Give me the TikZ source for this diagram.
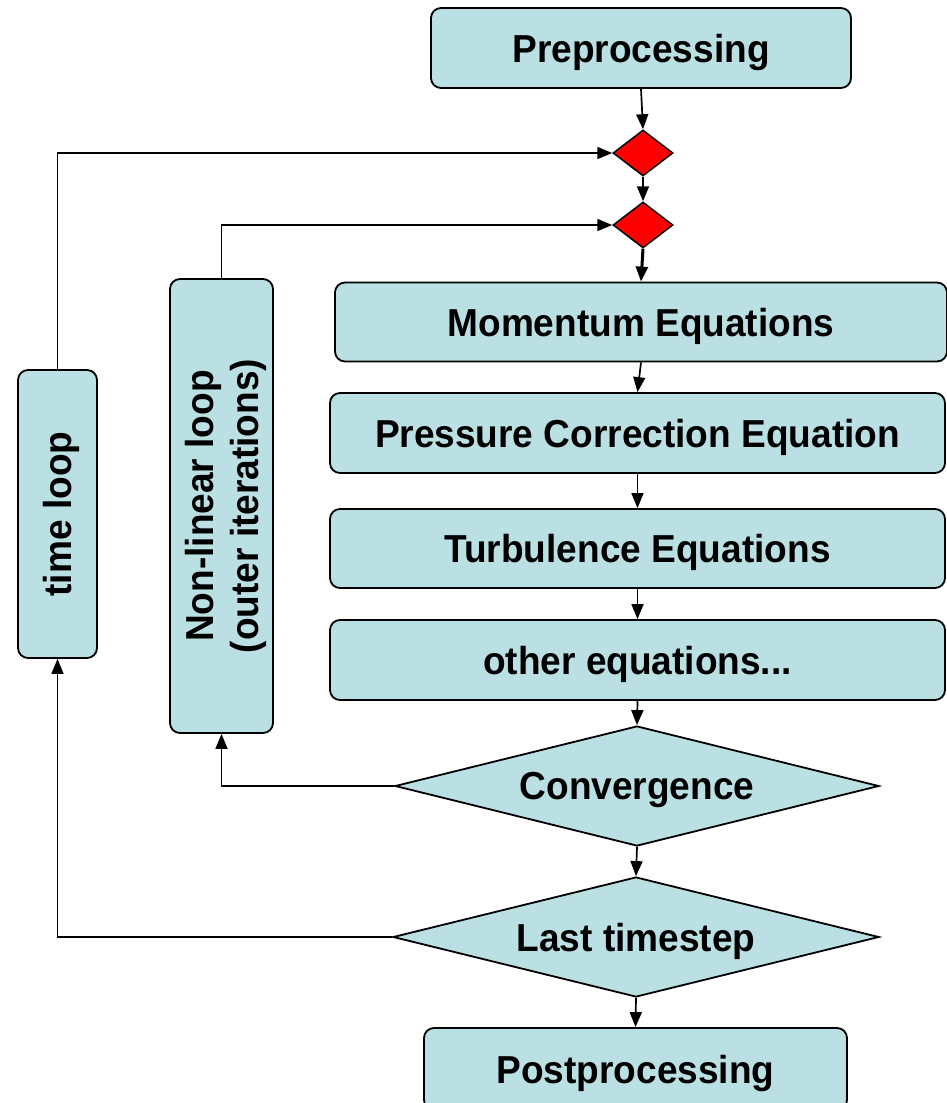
\documentclass[tikz,border=0pt]{standalone}
\usepackage{fontspec}
\setmainfont{Liberation Sans}[FakeStretch=0.95]
\usetikzlibrary{shapes.geometric,arrows.meta}
\definecolor{boxcyan}{RGB}{187,224,227}
\begin{document}
\begin{tikzpicture}[x=1pt,y=-1pt,
		box/.style={draw, line width=1.8pt, rounded corners=10pt, fill=boxcyan,
			inner sep=0pt, text depth=0pt, font=\bfseries\fontsize{39}{45}\selectfont, align=center},
		decision/.style={diamond, aspect=4.03, draw, line width=1.8pt, fill=boxcyan, inner sep=0pt,
			text depth=0pt, font=\bfseries\fontsize{39}{45}\selectfont},
		junction/.style={diamond, aspect=1.3, draw, line width=1.5pt, fill=red, inner sep=0pt,
			minimum width=60pt, minimum height=46pt},
		flow/.style={line width=1.7pt, -{Triangle[length=15pt,width=12pt]}}]
	% page frame
	\useasboundingbox (0,0) rectangle (947,1103);

	% main column
	\node[box, minimum width=420pt, minimum height=80pt] (pre) at (641,48) {Preprocessing};
	\node[junction] (jtime) at (643,153) {};
	\node[junction] (jiter) at (643,225) {};
	\node[box, minimum width=612pt, minimum height=79pt] (mom) at (641,322) {Momentum Equations};
	\node[box, minimum width=615pt, minimum height=80pt] (pres) at (637.5,433) {Pressure Correction Equation};
	\node[box, minimum width=615pt, minimum height=79pt] (turb) at (637.5,548.5) {Turbulence Equations};
	\node[box, minimum width=615pt, minimum height=80pt] (other) at (637.5,660) {other equations...};
	\node[decision, minimum width=484pt, minimum height=120pt] (conv) at (637,786) {Convergence};
	\node[decision, minimum width=486pt, minimum height=120pt] (last) at (636,937) {Last timestep};
	\node[box, minimum width=423pt, minimum height=82pt] (post) at (635.5,1069) {Postprocessing};

	% loop boxes
	\node[box, rotate=90, minimum width=288pt, minimum height=79pt] (tloop) at (57.5,514) {time loop};
	\node[box, rotate=90, minimum width=454pt, minimum height=103pt] (nlloop) at (221.5,506)
		{Non-linear loop\\(outer iterations)};

	% connectors
	\draw[flow] (pre.south) -- (jtime.north);
	\draw[flow] (jtime.south) -- (jiter.north);
	\draw[flow, line width=3pt] (jiter.south) -- (mom.north);
	\draw[flow] (mom.south) -- (pres.north);
	\draw[flow] (pres.south) -- (turb.north);
	\draw[flow] (turb.south) -- (other.north);
	\draw[flow] (other.south) -- (conv.north);
	\draw[flow] (conv.south) -- (last.north);
	\draw[flow] (last.south) -- (post.north);

	% loops back
	\draw[flow] (tloop.east) |- (jtime.west);
	\draw[flow] (nlloop.east) |- (jiter.west);
	\draw[flow] (conv.west) -| (nlloop.west);
	\draw[flow] (last.west) -| (tloop.west);
\end{tikzpicture}
\end{document}
